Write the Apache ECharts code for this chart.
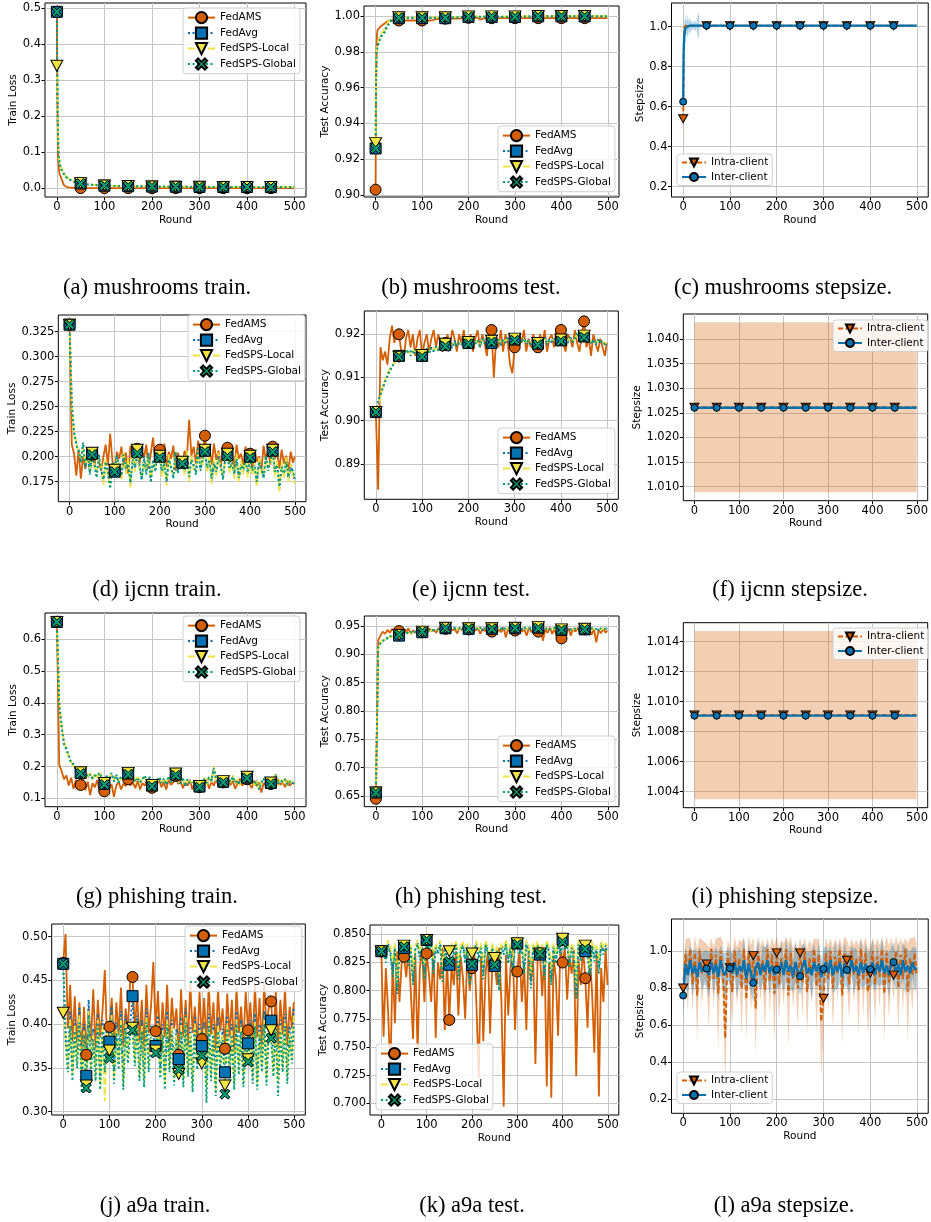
<!DOCTYPE html>
<html><head><meta charset="utf-8">
<script src="https://cdn.jsdelivr.net/npm/echarts@6/dist/echarts.min.js"></script>
<style>html,body{margin:0;padding:0;background:#fff;}#c{width:931px;height:1222px;}</style>
</head><body><div id="c"></div>
<script>
// ---------- x positions (rounds) ----------
const rounds5 = [];
for (let r = 0; r < 500; r += 5) rounds5.push(r);
rounds5.push(499);
const xTicks = [0, 100, 200, 300, 400, 500];

// ---------- (a) mushrooms train ----------
const mushTrainRounds = [0,1,2,3,4,5,6,8,10,12,15,20,25,30,35,40,45,50,60,70,80,90,100,120,150,175,200,250,300,350,400,450,499];
const mushTrainFedAMS = [0.490,0.250,0.120,0.075,0.055,0.045,0.038,0.032,0.028,0.030,0.008,0.004,0.002,0.0015,0.001,0.0008,0.0005,0.0002,0.0002,0.0002,0.0002,0.0001,0.0001,0.0001,0.0001,0.0001,0.0001,0.0001,0.0001,0.0001,0.0001,0.0001,0.0001];
const mushTrainFedAvg = [0.490,0.300,0.180,0.120,0.090,0.075,0.068,0.058,0.050,0.045,0.038,0.030,0.025,0.021,0.018,0.016,0.014,0.013,0.011,0.0095,0.0085,0.0078,0.007,0.0062,0.0055,0.005,0.0045,0.004,0.0035,0.0032,0.003,0.0028,0.0026];
const mushTrainLocal = [0.340,0.270,0.175,0.125,0.095,0.078,0.070,0.060,0.052,0.047,0.040,0.031,0.026,0.022,0.019,0.017,0.015,0.014,0.012,0.010,0.009,0.0082,0.0075,0.0066,0.0058,0.0053,0.0048,0.0042,0.0037,0.0034,0.0032,0.003,0.0028];
const mushTrainGlobal = [0.490,0.290,0.178,0.118,0.092,0.077,0.069,0.059,0.051,0.046,0.039,0.031,0.026,0.022,0.019,0.016,0.015,0.013,0.011,0.0097,0.0087,0.008,0.0072,0.0064,0.0057,0.0052,0.0047,0.0041,0.0036,0.0033,0.0031,0.0029,0.0027];

// ---------- (b) mushrooms test ----------
const mushTestRounds = [0,1,2,3,4,5,6,8,10,12,15,20,25,30,35,40,45,50,60,80,100,120,130,140,150,175,200,220,225,230,250,300,350,400,450,499];
const mushTestFedAMS = [0.903,0.955,0.982,0.990,0.992,0.992,0.993,0.993,0.994,0.994,0.995,0.996,0.997,0.9975,0.9975,0.9975,0.9975,0.9975,0.9975,0.9975,0.9975,0.9975,0.9982,0.9985,0.9985,0.9985,0.999,0.999,0.998,0.9985,0.9988,0.9988,0.9988,0.9988,0.9988,0.9988];
const mushTestFedAvg = [0.926,0.965,0.981,0.982,0.983,0.984,0.985,0.987,0.988,0.989,0.990,0.992,0.995,0.997,0.998,0.9985,0.9988,0.9988,0.9988,0.9988,0.9988,0.9988,0.9988,0.9988,0.9988,0.9992,0.9995,0.9995,0.9995,0.9995,0.9995,0.9995,0.9998,0.9998,0.9998,0.9998];
const mushTestLocal = [0.929,0.962,0.980,0.983,0.984,0.985,0.986,0.988,0.989,0.990,0.991,0.993,0.996,0.998,0.999,0.9992,0.9993,0.9993,0.9993,0.9993,0.9993,0.9993,0.9993,0.9993,0.9993,0.9995,0.9998,0.9998,0.9998,0.9998,0.9998,0.9998,1.0,1.0,1.0,1.0];
const mushTestGlobal = [0.926,0.963,0.980,0.981,0.982,0.983,0.984,0.986,0.987,0.988,0.990,0.991,0.994,0.996,0.998,0.9988,0.999,0.999,0.999,0.999,0.999,0.999,0.999,0.999,0.999,0.9993,0.9996,0.9996,0.9996,0.9996,0.9996,0.9996,0.9999,0.9999,0.9999,0.9999];

// ---------- (c) mushrooms stepsize ----------
const mushStepRounds = [0,1,2,3,4,5,6,8,10,12,15,18,20,22,25,28,30,33,35,40,45,50,100,150,200,250,300,350,400,450,499];
const mushIntraMean = [0.540,0.800,0.970,1.000,1.004,1.005,1.005,1.005,1.005,1.005,1.005,1.005,1.005,1.005,1.005,1.005,1.005,1.005,1.005,1.005,1.005,1.005,1.005,1.005,1.005,1.005,1.005,1.005,1.005,1.005,1.005];
const mushIntraStd = [0.190,0.120,0.040,0.015,0.008,0.005,0.004,0.003,0.003,0.002,0.002,0.002,0.002,0.002,0.002,0.002,0.002,0.002,0.002,0.002,0.002,0.002,0.002,0.002,0.002,0.002,0.002,0.002,0.002,0.002,0.002];
const mushInterMean = [0.625,0.870,0.940,0.965,0.985,0.992,0.996,0.999,1.002,1.004,1.005,1.005,1.005,1.005,1.005,1.005,1.005,1.005,1.005,1.005,1.005,1.005,1.005,1.005,1.005,1.005,1.005,1.005,1.005,1.005,1.005];
const mushInterStd = [0.010,0.030,0.050,0.070,0.060,0.075,0.040,0.030,0.060,0.020,0.040,0.015,0.025,0.010,0.030,0.010,0.040,0.070,0.010,0.003,0.002,0.002,0.002,0.002,0.002,0.002,0.002,0.002,0.002,0.002,0.002];

// ---------- (d) ijcnn train ----------
const ijcnnTrainFedAMS = [
0.332,0.212,0.203,0.181,0.207,0.178,0.200,0.188,0.206,0.193,
0.202,0.190,0.207,0.195,0.186,0.200,0.212,0.191,0.223,0.196,
0.186,0.205,0.198,0.210,0.190,0.204,0.183,0.211,0.197,0.205,
0.208,0.193,0.206,0.199,0.212,0.188,0.203,0.219,0.196,0.209,
0.207,0.195,0.213,0.190,0.205,0.198,0.211,0.186,0.204,0.196,
0.194,0.206,0.199,0.237,0.201,0.210,0.193,0.216,0.198,0.205,
0.221,0.200,0.208,0.192,0.213,0.197,0.206,0.189,0.211,0.199,
0.209,0.194,0.205,0.187,0.212,0.198,0.203,0.191,0.210,0.196,
0.203,0.189,0.207,0.195,0.200,0.185,0.211,0.197,0.206,0.192,
0.210,0.198,0.204,0.188,0.207,0.193,0.201,0.186,0.205,0.194,
0.200];
const ijcnnTrainFedAvg = [
0.332,0.255,0.225,0.213,0.205,0.196,0.212,0.190,0.203,0.184,
0.203,0.192,0.181,0.200,0.188,0.175,0.197,0.183,0.170,0.193,
0.185,0.200,0.191,0.179,0.204,0.186,0.195,0.172,0.199,0.188,
0.205,0.190,0.178,0.198,0.184,0.202,0.176,0.195,0.187,0.201,
0.200,0.183,0.196,0.174,0.199,0.189,0.180,0.203,0.185,0.197,
0.194,0.185,0.203,0.178,0.199,0.190,0.184,0.208,0.188,0.196,
0.206,0.187,0.199,0.176,0.195,0.183,0.201,0.190,0.179,0.197,
0.202,0.186,0.196,0.181,0.200,0.177,0.193,0.185,0.198,0.182,
0.200,0.184,0.192,0.173,0.197,0.186,0.180,0.199,0.188,0.195,
0.206,0.183,0.194,0.168,0.192,0.181,0.197,0.178,0.190,0.184,
0.176];
const ijcnnTrainLocal = [
0.332,0.252,0.222,0.216,0.203,0.199,0.209,0.193,0.201,0.187,
0.204,0.189,0.184,0.198,0.191,0.172,0.199,0.180,0.173,0.190,
0.187,0.197,0.194,0.176,0.206,0.183,0.198,0.169,0.201,0.185,
0.207,0.187,0.181,0.195,0.187,0.199,0.179,0.192,0.190,0.198,
0.201,0.180,0.199,0.171,0.202,0.186,0.183,0.200,0.188,0.194,
0.195,0.182,0.206,0.175,0.202,0.187,0.187,0.205,0.191,0.193,
0.207,0.184,0.202,0.173,0.198,0.180,0.204,0.187,0.182,0.194,
0.203,0.183,0.199,0.178,0.203,0.174,0.196,0.182,0.201,0.179,
0.201,0.181,0.195,0.170,0.200,0.183,0.183,0.196,0.191,0.192,
0.207,0.180,0.197,0.165,0.195,0.178,0.200,0.175,0.193,0.181,
0.173];
const ijcnnTrainGlobal = [
0.332,0.250,0.224,0.211,0.207,0.194,0.214,0.188,0.205,0.182,
0.202,0.194,0.179,0.202,0.186,0.177,0.195,0.185,0.168,0.195,
0.185,0.202,0.189,0.181,0.202,0.188,0.193,0.174,0.197,0.190,
0.203,0.192,0.176,0.200,0.182,0.204,0.174,0.197,0.185,0.203,
0.199,0.185,0.194,0.176,0.197,0.191,0.178,0.205,0.183,0.199,
0.193,0.187,0.201,0.180,0.197,0.192,0.182,0.210,0.186,0.198,
0.205,0.189,0.197,0.178,0.193,0.185,0.199,0.192,0.177,0.199,
0.200,0.188,0.194,0.183,0.198,0.179,0.191,0.187,0.196,0.184,
0.199,0.186,0.190,0.175,0.195,0.188,0.178,0.201,0.186,0.197,
0.205,0.185,0.192,0.170,0.190,0.183,0.195,0.180,0.188,0.186,
0.178];

// ---------- (e) ijcnn test ----------
const ijcnnTestFedAMS = [
0.902,0.884,0.917,0.914,0.916,0.913,0.919,0.922,0.918,0.921,
0.920,0.916,0.914,0.919,0.921,0.917,0.920,0.915,0.919,0.921,
0.915,0.918,0.920,0.916,0.919,0.921,0.917,0.920,0.918,0.916,
0.918,0.920,0.917,0.921,0.919,0.916,0.920,0.918,0.921,0.917,
0.918,0.920,0.916,0.919,0.921,0.917,0.920,0.918,0.915,0.921,
0.921,0.910,0.919,0.917,0.921,0.916,0.920,0.918,0.913,0.911,
0.917,0.919,0.920,0.918,0.921,0.916,0.919,0.917,0.920,0.918,
0.917,0.920,0.918,0.921,0.916,0.919,0.920,0.917,0.921,0.918,
0.921,0.918,0.916,0.920,0.919,0.917,0.921,0.918,0.916,0.920,
0.923,0.917,0.919,0.915,0.920,0.918,0.916,0.919,0.917,0.915,
0.918];
const ijcnnTestFedAvg = [
0.902,0.904,0.906,0.9075,0.909,0.9105,0.9115,0.9125,0.9135,0.914,
0.915,0.9145,0.916,0.9155,0.9165,0.915,0.916,0.9155,0.9165,0.9155,
0.915,0.916,0.9165,0.9155,0.917,0.916,0.917,0.9165,0.9175,0.9165,
0.9175,0.9168,0.918,0.917,0.9185,0.9172,0.918,0.9175,0.919,0.9178,
0.918,0.9172,0.919,0.9176,0.9188,0.9171,0.9192,0.9178,0.9185,0.9175,
0.918,0.9195,0.9176,0.919,0.9175,0.9188,0.9182,0.9192,0.9177,0.919,
0.9188,0.9176,0.919,0.918,0.9192,0.9178,0.9187,0.9175,0.919,0.918,
0.9178,0.919,0.918,0.9194,0.9177,0.9189,0.9181,0.9192,0.9178,0.9188,
0.9186,0.9178,0.9192,0.918,0.9195,0.9182,0.919,0.9199,0.9183,0.9193,
0.9195,0.918,0.9192,0.9178,0.9188,0.9175,0.919,0.9179,0.9186,0.9174,
0.918];
const ijcnnTestLocal = [
0.902,0.9035,0.9055,0.908,0.9095,0.911,0.912,0.9128,0.9132,0.9143,
0.9148,0.915,0.9158,0.9162,0.916,0.9155,0.9163,0.916,0.9168,0.916,
0.9152,0.9163,0.916,0.9162,0.9165,0.9168,0.9165,0.917,0.917,0.9172,
0.9178,0.9172,0.9176,0.9176,0.918,0.9178,0.9176,0.918,0.9185,0.9182,
0.9182,0.9177,0.9186,0.9181,0.9184,0.9177,0.9188,0.9182,0.9181,0.918,
0.9185,0.9198,0.918,0.9187,0.918,0.9185,0.9186,0.9188,0.9181,0.9186,
0.919,0.918,0.9187,0.9184,0.9188,0.9182,0.9184,0.9179,0.9187,0.9184,
0.918,0.9187,0.9184,0.919,0.9181,0.9186,0.9185,0.9189,0.9182,0.9185,
0.9188,0.9182,0.9189,0.9184,0.9192,0.9186,0.9187,0.9203,0.9187,0.919,
0.9197,0.9184,0.9189,0.9182,0.9185,0.9179,0.9187,0.9183,0.9183,0.9178,
0.9181];
const ijcnnTestGlobal = [
0.902,0.9045,0.9062,0.9078,0.9092,0.9102,0.9118,0.9122,0.9138,0.9138,
0.9148,0.9155,0.9152,0.9165,0.9158,0.9162,0.9155,0.9165,0.9158,0.9163,
0.9148,0.9158,0.9168,0.9158,0.9168,0.9162,0.9172,0.9162,0.9178,0.9163,
0.9172,0.9166,0.9182,0.9168,0.9183,0.9175,0.9178,0.9177,0.9188,0.9176,
0.9178,0.9174,0.9188,0.9178,0.9186,0.9173,0.919,0.918,0.9183,0.9177,
0.9182,0.9205,0.9178,0.9188,0.9177,0.9186,0.918,0.919,0.9179,0.9188,
0.9186,0.9178,0.9188,0.9182,0.919,0.918,0.9185,0.9177,0.9188,0.9182,
0.9176,0.9188,0.9182,0.9192,0.9179,0.9187,0.9183,0.919,0.918,0.9186,
0.9184,0.918,0.919,0.9182,0.9193,0.9184,0.9188,0.9205,0.9185,0.9191,
0.9193,0.9182,0.919,0.918,0.9186,0.9177,0.9188,0.9181,0.9184,0.9176,
0.9178];

// ---------- (f) ijcnn stepsize ----------
const ijcnnStepRounds = [0,50,100,150,200,250,300,350,400,450,499];
const ijcnnIntraMean = [1.02615,1.02615,1.02615,1.02615,1.02615,1.02615,1.02615,1.02615,1.02615,1.02615,1.02615];
const ijcnnIntraStd = [0.01725,0.01725,0.01725,0.01725,0.01725,0.01725,0.01725,0.01725,0.01725,0.01725,0.01725];
const ijcnnInterMean = [1.02605,1.02605,1.02605,1.02605,1.02605,1.02605,1.02605,1.02605,1.02605,1.02605,1.02605];

// ---------- (g) phishing train ----------
const phishTrainFedAMS = [
0.655,0.205,0.185,0.160,0.172,0.140,0.165,0.130,0.158,0.148,
0.142,0.160,0.125,0.152,0.110,0.148,0.135,0.158,0.118,0.145,
0.122,0.150,0.130,0.145,0.105,0.140,0.152,0.128,0.146,0.138,
0.160,0.140,0.150,0.132,0.155,0.128,0.148,0.140,0.158,0.135,
0.133,0.152,0.140,0.160,0.135,0.150,0.128,0.158,0.142,0.150,
0.170,0.145,0.155,0.132,0.150,0.140,0.158,0.128,0.148,0.138,
0.135,0.150,0.142,0.158,0.130,0.152,0.140,0.160,0.138,0.148,
0.150,0.138,0.160,0.142,0.155,0.130,0.148,0.162,0.140,0.152,
0.160,0.145,0.132,0.155,0.138,0.150,0.118,0.148,0.140,0.155,
0.145,0.152,0.138,0.160,0.142,0.150,0.135,0.155,0.140,0.150,
0.145];
const phishTrainFedAvg = [
0.655,0.400,0.320,0.275,0.250,0.232,0.212,0.205,0.192,0.185,
0.180,0.172,0.185,0.165,0.178,0.160,0.175,0.168,0.182,0.158,
0.145,0.170,0.160,0.178,0.155,0.172,0.150,0.168,0.162,0.175,
0.178,0.160,0.170,0.152,0.165,0.148,0.162,0.170,0.150,0.165,
0.140,0.158,0.148,0.165,0.150,0.160,0.145,0.168,0.152,0.162,
0.175,0.155,0.148,0.162,0.140,0.158,0.150,0.145,0.155,0.142,
0.137,0.150,0.162,0.145,0.168,0.152,0.198,0.158,0.148,0.160,
0.152,0.145,0.162,0.150,0.170,0.148,0.158,0.142,0.165,0.150,
0.165,0.150,0.158,0.142,0.155,0.132,0.150,0.160,0.145,0.155,
0.148,0.160,0.175,0.142,0.158,0.150,0.162,0.140,0.155,0.148,
0.150];
const phishTrainLocal = [
0.655,0.410,0.325,0.280,0.255,0.228,0.215,0.200,0.195,0.182,
0.182,0.168,0.188,0.162,0.180,0.158,0.178,0.165,0.185,0.155,
0.148,0.168,0.163,0.175,0.158,0.170,0.153,0.165,0.165,0.172,
0.180,0.158,0.172,0.150,0.168,0.145,0.165,0.168,0.153,0.162,
0.142,0.155,0.150,0.162,0.153,0.158,0.148,0.165,0.155,0.160,
0.178,0.152,0.150,0.160,0.143,0.155,0.153,0.142,0.158,0.140,
0.139,0.148,0.165,0.143,0.170,0.150,0.200,0.155,0.150,0.158,
0.154,0.143,0.165,0.148,0.172,0.145,0.160,0.140,0.168,0.148,
0.168,0.148,0.160,0.140,0.158,0.130,0.153,0.158,0.148,0.152,
0.150,0.158,0.178,0.140,0.160,0.148,0.165,0.138,0.158,0.145,
0.152];
const phishTrainGlobal = [
0.655,0.395,0.330,0.270,0.258,0.236,0.210,0.208,0.190,0.188,
0.178,0.175,0.182,0.168,0.175,0.163,0.172,0.170,0.180,0.160,
0.143,0.172,0.158,0.180,0.152,0.175,0.148,0.170,0.160,0.178,
0.175,0.162,0.168,0.155,0.162,0.150,0.160,0.172,0.148,0.168,
0.138,0.160,0.146,0.168,0.148,0.162,0.143,0.170,0.150,0.165,
0.172,0.158,0.146,0.165,0.138,0.160,0.148,0.148,0.152,0.145,
0.135,0.152,0.160,0.148,0.165,0.155,0.195,0.160,0.146,0.162,
0.150,0.148,0.160,0.153,0.168,0.150,0.155,0.145,0.162,0.153,
0.163,0.153,0.155,0.145,0.152,0.128,0.148,0.163,0.142,0.158,
0.146,0.162,0.172,0.145,0.155,0.153,0.160,0.143,0.152,0.150,
0.148];

// ---------- (h) phishing test ----------
const phishTestFedAMS = [
0.645,0.925,0.933,0.940,0.936,0.943,0.938,0.945,0.940,0.944,
0.941,0.937,0.944,0.939,0.946,0.936,0.942,0.938,0.945,0.940,
0.939,0.944,0.937,0.946,0.941,0.943,0.938,0.946,0.942,0.945,
0.945,0.940,0.947,0.942,0.945,0.937,0.946,0.943,0.948,0.941,
0.944,0.939,0.947,0.942,0.946,0.936,0.945,0.941,0.947,0.940,
0.940,0.946,0.935,0.944,0.939,0.947,0.930,0.945,0.938,0.946,
0.942,0.936,0.946,0.940,0.944,0.933,0.947,0.939,0.945,0.941,
0.940,0.946,0.924,0.944,0.938,0.947,0.936,0.945,0.930,0.942,
0.928,0.944,0.937,0.946,0.933,0.945,0.940,0.947,0.935,0.944,
0.944,0.938,0.946,0.934,0.945,0.921,0.943,0.937,0.946,0.938,
0.942];
const phishTestFedAvg = [
0.656,0.912,0.920,0.924,0.927,0.929,0.931,0.932,0.933,0.934,
0.933,0.936,0.937,0.936,0.938,0.937,0.939,0.938,0.940,0.939,
0.939,0.941,0.940,0.942,0.941,0.943,0.942,0.944,0.943,0.945,
0.946,0.944,0.946,0.945,0.947,0.944,0.946,0.945,0.947,0.944,
0.945,0.946,0.944,0.947,0.945,0.946,0.943,0.947,0.945,0.946,
0.945,0.947,0.944,0.946,0.945,0.947,0.944,0.946,0.945,0.947,
0.946,0.944,0.947,0.945,0.946,0.944,0.947,0.945,0.946,0.944,
0.947,0.945,0.946,0.944,0.947,0.945,0.943,0.946,0.944,0.945,
0.943,0.945,0.944,0.946,0.943,0.945,0.944,0.946,0.943,0.945,
0.944,0.946,0.943,0.945,0.944,0.946,0.943,0.945,0.944,0.946,
0.945];
const phishTestLocal = [
0.656,0.910,0.921,0.925,0.926,0.930,0.930,0.933,0.932,0.935,
0.934,0.935,0.938,0.937,0.937,0.938,0.938,0.939,0.939,0.940,
0.940,0.940,0.941,0.941,0.942,0.942,0.943,0.943,0.944,0.944,
0.947,0.945,0.945,0.946,0.946,0.945,0.945,0.946,0.946,0.945,
0.946,0.945,0.945,0.946,0.946,0.945,0.944,0.946,0.946,0.945,
0.946,0.946,0.945,0.945,0.946,0.946,0.945,0.945,0.946,0.946,
0.947,0.945,0.946,0.946,0.945,0.945,0.946,0.946,0.945,0.945,
0.948,0.944,0.947,0.945,0.946,0.946,0.944,0.945,0.945,0.944,
0.944,0.944,0.945,0.945,0.944,0.944,0.945,0.945,0.944,0.944,
0.945,0.945,0.944,0.944,0.945,0.945,0.944,0.944,0.945,0.945,
0.944];
const phishTestGlobal = [
0.656,0.913,0.919,0.923,0.928,0.928,0.932,0.931,0.934,0.933,
0.935,0.937,0.936,0.938,0.937,0.939,0.938,0.940,0.939,0.940,
0.940,0.941,0.941,0.942,0.942,0.943,0.943,0.944,0.944,0.945,
0.946,0.945,0.946,0.946,0.945,0.946,0.946,0.946,0.945,0.946,
0.945,0.947,0.945,0.946,0.944,0.947,0.945,0.946,0.944,0.947,
0.945,0.946,0.945,0.947,0.944,0.946,0.945,0.947,0.944,0.946,
0.946,0.945,0.946,0.944,0.947,0.945,0.946,0.944,0.947,0.945,
0.946,0.946,0.945,0.945,0.946,0.944,0.944,0.947,0.945,0.946,
0.943,0.946,0.945,0.945,0.944,0.946,0.945,0.945,0.944,0.946,
0.944,0.945,0.944,0.946,0.945,0.945,0.944,0.946,0.945,0.945,
0.946];

// ---------- (i) phishing stepsize ----------
const phishStepRounds = [0,50,100,150,200,250,300,350,400,450,499];
const phishIntraMean = [1.00911,1.00911,1.00911,1.00911,1.00911,1.00911,1.00911,1.00911,1.00911,1.00911,1.00911];
const phishIntraStd = [0.00561,0.00561,0.00561,0.00561,0.00561,0.00561,0.00561,0.00561,0.00561,0.00561,0.00561];
const phishInterMean = [1.00907,1.00907,1.00907,1.00907,1.00907,1.00907,1.00907,1.00907,1.00907,1.00907,1.00907];

// ---------- (j) a9a train ----------
const a9aTrainFedAMS = [
0.470,0.503,0.395,0.445,0.380,0.432,0.370,0.425,0.365,0.420,
0.365,0.418,0.380,0.440,0.372,0.428,0.385,0.415,0.462,0.378,
0.397,0.430,0.372,0.425,0.388,0.442,0.375,0.418,0.395,0.450,
0.454,0.392,0.435,0.380,0.428,0.368,0.445,0.390,0.420,0.471,
0.392,0.438,0.375,0.425,0.385,0.445,0.370,0.430,0.395,0.418,
0.365,0.440,0.385,0.428,0.375,0.448,0.390,0.420,0.372,0.438,
0.383,0.430,0.378,0.445,0.388,0.425,0.370,0.440,0.392,0.418,
0.372,0.435,0.385,0.428,0.368,0.442,0.390,0.420,0.378,0.438,
0.393,0.425,0.375,0.445,0.385,0.430,0.370,0.448,0.395,0.420,
0.426,0.380,0.438,0.372,0.428,0.388,0.442,0.375,0.420,0.395,
0.425];
const a9aTrainFedAvg = [
0.469,0.395,0.360,0.415,0.350,0.405,0.365,0.420,0.345,0.400,
0.341,0.428,0.360,0.395,0.352,0.412,0.340,0.405,0.370,0.398,
0.380,0.420,0.348,0.402,0.365,0.415,0.338,0.410,0.372,0.400,
0.432,0.368,0.410,0.350,0.405,0.345,0.418,0.362,0.398,0.385,
0.375,0.410,0.352,0.400,0.342,0.415,0.360,0.405,0.348,0.395,
0.360,0.408,0.345,0.418,0.355,0.398,0.340,0.410,0.365,0.400,
0.375,0.402,0.338,0.412,0.350,0.400,0.335,0.408,0.362,0.395,
0.345,0.410,0.352,0.400,0.340,0.415,0.358,0.405,0.345,0.398,
0.378,0.405,0.350,0.412,0.342,0.400,0.362,0.415,0.348,0.402,
0.404,0.355,0.410,0.345,0.405,0.360,0.412,0.350,0.398,0.372,
0.420];
const a9aTrainLocal = [
0.413,0.385,0.352,0.405,0.342,0.398,0.355,0.410,0.335,0.392,
0.330,0.415,0.350,0.388,0.340,0.405,0.330,0.398,0.312,0.390,
0.370,0.410,0.338,0.395,0.355,0.405,0.330,0.400,0.362,0.392,
0.396,0.358,0.400,0.340,0.398,0.335,0.408,0.352,0.390,0.375,
0.370,0.400,0.342,0.392,0.332,0.405,0.350,0.398,0.338,0.388,
0.343,0.398,0.335,0.408,0.345,0.390,0.330,0.400,0.355,0.392,
0.355,0.395,0.328,0.402,0.340,0.392,0.325,0.398,0.352,0.388,
0.330,0.400,0.342,0.392,0.330,0.405,0.348,0.398,0.335,0.390,
0.360,0.398,0.340,0.402,0.332,0.392,0.352,0.405,0.338,0.395,
0.393,0.345,0.400,0.335,0.398,0.350,0.402,0.340,0.390,0.362,
0.410];
const a9aTrainGlobal = [
0.469,0.380,0.345,0.398,0.335,0.392,0.350,0.402,0.322,0.388,
0.327,0.410,0.345,0.382,0.335,0.400,0.325,0.392,0.345,0.385,
0.361,0.405,0.332,0.390,0.348,0.400,0.325,0.395,0.355,0.388,
0.393,0.352,0.395,0.335,0.392,0.328,0.402,0.345,0.385,0.368,
0.367,0.395,0.338,0.388,0.325,0.400,0.345,0.392,0.330,0.382,
0.348,0.392,0.328,0.402,0.340,0.385,0.322,0.395,0.348,0.388,
0.364,0.390,0.310,0.398,0.335,0.388,0.318,0.392,0.345,0.382,
0.320,0.395,0.335,0.388,0.325,0.400,0.342,0.392,0.328,0.385,
0.357,0.392,0.332,0.398,0.325,0.388,0.345,0.400,0.330,0.390,
0.384,0.340,0.395,0.318,0.392,0.345,0.398,0.332,0.385,0.355,
0.400];

// ---------- (k) a9a test ----------
const a9aTestFedAMS = [
0.835,0.759,0.820,0.782,0.725,0.828,0.771,0.835,0.790,0.825,
0.830,0.812,0.838,0.800,0.757,0.832,0.745,0.820,0.838,0.790,
0.833,0.815,0.790,0.836,0.758,0.825,0.810,0.838,0.765,0.828,
0.774,0.822,0.805,0.835,0.778,0.830,0.812,0.775,0.836,0.800,
0.820,0.838,0.786,0.722,0.830,0.755,0.815,0.835,0.762,0.825,
0.825,0.805,0.838,0.790,0.697,0.832,0.778,0.820,0.838,0.765,
0.817,0.835,0.790,0.825,0.765,0.838,0.810,0.828,0.735,0.832,
0.833,0.795,0.838,0.715,0.825,0.705,0.830,0.812,0.760,0.836,
0.825,0.838,0.792,0.830,0.815,0.836,0.724,0.828,0.805,0.838,
0.811,0.767,0.832,0.798,0.745,0.835,0.706,0.820,0.790,0.838,
0.805];
const a9aTestFedAvg = [
0.835,0.840,0.828,0.842,0.835,0.818,0.840,0.797,0.838,0.830,
0.838,0.842,0.825,0.840,0.808,0.838,0.843,0.830,0.840,0.815,
0.845,0.838,0.842,0.820,0.840,0.835,0.843,0.812,0.838,0.830,
0.823,0.840,0.832,0.843,0.815,0.838,0.842,0.828,0.840,0.810,
0.823,0.838,0.842,0.830,0.840,0.815,0.843,0.836,0.825,0.840,
0.822,0.838,0.805,0.840,0.835,0.843,0.828,0.840,0.818,0.842,
0.842,0.835,0.840,0.820,0.843,0.838,0.808,0.840,0.832,0.842,
0.832,0.840,0.815,0.843,0.836,0.810,0.840,0.828,0.842,0.835,
0.845,0.838,0.842,0.825,0.840,0.832,0.795,0.843,0.830,0.840,
0.835,0.840,0.812,0.842,0.830,0.838,0.820,0.842,0.835,0.840,
0.838];
const a9aTestLocal = [
0.835,0.842,0.832,0.845,0.838,0.825,0.842,0.808,0.840,0.835,
0.840,0.844,0.830,0.842,0.818,0.840,0.845,0.835,0.842,0.822,
0.845,0.840,0.844,0.828,0.842,0.838,0.845,0.820,0.840,0.835,
0.835,0.842,0.836,0.845,0.822,0.840,0.844,0.832,0.842,0.818,
0.833,0.840,0.844,0.835,0.842,0.822,0.845,0.838,0.830,0.842,
0.829,0.840,0.815,0.842,0.838,0.845,0.832,0.842,0.825,0.844,
0.842,0.838,0.842,0.828,0.845,0.840,0.815,0.842,0.836,0.844,
0.833,0.842,0.822,0.845,0.838,0.818,0.842,0.832,0.844,0.838,
0.846,0.840,0.844,0.830,0.842,0.836,0.805,0.845,0.834,0.842,
0.840,0.842,0.820,0.844,0.835,0.840,0.826,0.844,0.838,0.842,
0.840];
const a9aTestGlobal = [
0.835,0.838,0.825,0.840,0.832,0.812,0.838,0.800,0.836,0.828,
0.839,0.840,0.822,0.838,0.805,0.836,0.841,0.827,0.838,0.810,
0.845,0.836,0.840,0.815,0.838,0.832,0.841,0.808,0.836,0.826,
0.826,0.838,0.828,0.841,0.810,0.836,0.840,0.824,0.838,0.805,
0.824,0.836,0.840,0.826,0.838,0.810,0.841,0.833,0.820,0.838,
0.823,0.836,0.800,0.838,0.832,0.841,0.824,0.838,0.812,0.840,
0.841,0.832,0.838,0.815,0.841,0.835,0.802,0.838,0.828,0.840,
0.833,0.838,0.810,0.841,0.833,0.805,0.838,0.824,0.840,0.832,
0.843,0.836,0.840,0.820,0.838,0.828,0.792,0.841,0.826,0.838,
0.837,0.838,0.808,0.840,0.826,0.836,0.815,0.840,0.832,0.838,
0.836];

// ---------- (l) a9a stepsize ----------
const a9aIntraMean = [
0.800,0.985,0.870,1.010,0.820,0.990,0.760,1.000,0.880,0.950,
0.930,0.800,1.010,0.850,0.980,0.770,1.000,0.900,0.530,0.990,
0.910,0.780,1.000,0.860,0.960,0.800,1.010,0.740,0.990,0.850,
0.975,0.690,1.000,0.880,0.950,0.790,1.010,0.840,0.980,0.770,
0.990,0.820,0.960,0.870,1.010,0.760,0.990,0.850,0.940,0.800,
0.990,0.830,1.000,0.780,0.960,0.870,1.010,0.810,0.980,0.620,
0.745,0.990,0.850,1.000,0.800,0.970,0.880,1.010,0.760,0.990,
0.950,0.820,1.000,0.870,0.960,0.790,1.010,0.840,0.990,0.780,
0.880,1.000,0.820,0.970,0.860,1.010,0.770,0.990,0.830,0.960,
0.870,1.000,0.800,0.980,0.850,1.010,0.780,0.960,0.870,0.990,
0.880];
const a9aIntraStd = [
0.120,0.080,0.200,0.060,0.150,0.090,0.250,0.070,0.180,0.100,
0.110,0.220,0.060,0.170,0.090,0.300,0.080,0.150,0.280,0.070,
0.120,0.200,0.080,0.160,0.100,0.250,0.060,0.220,0.090,0.180,
0.100,0.250,0.080,0.150,0.110,0.220,0.060,0.180,0.090,0.260,
0.090,0.200,0.100,0.170,0.070,0.280,0.090,0.160,0.110,0.210,
0.080,0.190,0.070,0.230,0.100,0.160,0.060,0.250,0.090,0.300,
0.200,0.080,0.180,0.070,0.220,0.100,0.150,0.060,0.260,0.090,
0.110,0.200,0.070,0.160,0.100,0.240,0.060,0.190,0.090,0.230,
0.150,0.070,0.210,0.100,0.170,0.060,0.250,0.090,0.200,0.110,
0.140,0.080,0.230,0.090,0.180,0.060,0.260,0.110,0.200,0.090,
0.150];
const a9aInterMean = [
0.760,0.930,0.870,0.950,0.880,0.920,0.860,0.940,0.890,0.910,
0.905,0.870,0.940,0.880,0.930,0.860,0.950,0.890,0.870,0.930,
0.907,0.880,0.940,0.870,0.920,0.890,0.950,0.850,0.930,0.880,
0.828,0.910,0.940,0.870,0.930,0.890,0.950,0.880,0.920,0.870,
0.900,0.880,0.940,0.870,0.950,0.890,0.920,0.860,0.940,0.890,
0.864,0.920,0.950,0.880,0.910,0.870,0.940,0.890,0.930,0.860,
0.903,0.940,0.880,0.950,0.870,0.920,0.890,0.940,0.860,0.930,
0.898,0.880,0.950,0.890,0.920,0.870,0.940,0.880,0.930,0.890,
0.902,0.940,0.870,0.930,0.890,0.950,0.880,0.920,0.870,0.940,
0.940,0.880,0.930,0.870,0.950,0.890,0.920,0.880,0.940,0.900,
0.910];
const a9aInterStd = [
0.140,0.090,0.110,0.080,0.120,0.090,0.130,0.080,0.100,0.090,
0.100,0.120,0.080,0.110,0.090,0.130,0.080,0.100,0.120,0.090,
0.090,0.110,0.080,0.120,0.100,0.090,0.130,0.080,0.110,0.100,
0.110,0.090,0.120,0.080,0.100,0.130,0.090,0.110,0.080,0.120,
0.100,0.080,0.110,0.090,0.120,0.100,0.130,0.080,0.110,0.090,
0.100,0.120,0.080,0.110,0.090,0.130,0.100,0.080,0.120,0.090,
0.110,0.090,0.120,0.080,0.100,0.130,0.090,0.110,0.080,0.120,
0.090,0.110,0.080,0.120,0.100,0.090,0.130,0.080,0.110,0.100,
0.100,0.120,0.090,0.110,0.080,0.130,0.100,0.090,0.120,0.080,
0.110,0.090,0.120,0.080,0.100,0.130,0.090,0.110,0.080,0.120,
0.100];

// ---------- styles ----------
const FONT = "'DejaVu Sans', sans-serif";
const DOWN_TRI = 'path://M0,0L10,0L5,9Z';
const X_MARK = 'path://M2,0L5,3L8,0L10,2L7,5L10,8L8,10L5,7L2,10L0,8L3,5L0,2Z';
const STY = {
  'FedAMS':        {color:'#D55E00', dash:'solid', width:1.8, symbol:'circle', size:11},
  'FedAvg':        {color:'#0072B2', dash:[2,2.5], width:1.9, symbol:'rect', size:11},
  'FedSPS-Local':  {color:'#F0E442', dash:[7,3], width:1.8, symbol:DOWN_TRI, size:[12,11]},
  'FedSPS-Global': {color:'#009E73', dash:[2,2.5], width:1.9, symbol:X_MARK, size:10},
  'Intra-client':  {color:'#D55E00', dash:[5,2.5], width:2, symbol:DOWN_TRI, size:[9,8]},
  'Inter-client':  {color:'#0072B2', dash:'solid', width:2.3, symbol:'circle', size:7}
};
const ALGOS = ['FedAMS','FedAvg','FedSPS-Local','FedSPS-Global'];
const STEPS = ['Intra-client','Inter-client'];

const PANELS = [
 {g:[45,3,261,194], y:[-0.0245,0.5145], yt:[0,0.1,0.2,0.3,0.4,0.5], dec:1, yn:'Train Loss', yg:19, leg:[183,8], kind:'algo', r:mushTrainRounds, d:[mushTrainFedAMS,mushTrainFedAvg,mushTrainLocal,mushTrainGlobal], cap:['(a) mushrooms train.',157,288]},
 {g:[364,6,255,191], y:[0.8989,1.0056], yt:[0.90,0.92,0.94,0.96,0.98,1.00], dec:2, yn:'Test Accuracy', yg:25, leg:[498,126], kind:'algo', r:mushTestRounds, d:[mushTestFedAMS,mushTestFedAvg,mushTestLocal,mushTestGlobal], cap:['(b) mushrooms test.',471,288]},
 {g:[671.5,3,261,194], y:[0.1485,1.1185], yt:[0.2,0.4,0.6,0.8,1.0], dec:1, yn:'Stepsize', yg:20, leg:[677,154], kind:'step', r:mushStepRounds, d:[mushIntraMean,mushIntraStd,mushInterMean,mushInterStd], cap:['(c) mushrooms stepsize.',783,288]},
 {g:[58.3,315,247.7,186.7], y:[0.155,0.3417], yt:[0.175,0.2,0.225,0.25,0.275,0.3,0.325], dec:3, yn:'Train Loss', yg:32, leg:[188,315], kind:'algo', r:rounds5, d:[ijcnnTrainFedAMS,ijcnnTrainFedAvg,ijcnnTrainLocal,ijcnnTrainGlobal], cap:['(d) ijcnn train.',157,590]},
 {g:[364.3,311,254,188.3], y:[0.8818,0.9254], yt:[0.89,0.90,0.91,0.92], dec:2, yn:'Test Accuracy', yg:25, leg:[498,428], kind:'algo', r:rounds5, d:[ijcnnTestFedAMS,ijcnnTestFedAvg,ijcnnTestLocal,ijcnnTestGlobal], cap:['(e) ijcnn test.',471,590]},
 {g:[683.3,314,248.2,186.7], y:[1.00716,1.0451], yt:[1.010,1.015,1.020,1.025,1.030,1.035,1.040], dec:3, yn:'Stepsize', yg:32, leg:[833,320], kind:'step', r:ijcnnStepRounds, d:[ijcnnIntraMean,ijcnnIntraStd,ijcnnInterMean,null], cap:['(f) ijcnn stepsize.',790,590]},
 {g:[45,613,261,193.7], y:[0.0736,0.683], yt:[0.1,0.2,0.3,0.4,0.5,0.6], dec:1, yn:'Train Loss', yg:19, leg:[183,616], kind:'algo', r:rounds5, d:[phishTrainFedAMS,phishTrainFedAvg,phishTrainLocal,phishTrainGlobal], cap:['(g) phishing train.',157,897]},
 {g:[364.3,616,254.7,190.7], y:[0.631,0.9676], yt:[0.65,0.70,0.75,0.80,0.85,0.90,0.95], dec:2, yn:'Test Accuracy', yg:25, leg:[498,736], kind:'algo', r:rounds5, d:[phishTestFedAMS,phishTestFedAvg,phishTestLocal,phishTestGlobal], cap:['(h) phishing test.',471,897]},
 {g:[683.3,622.7,248.2,185], y:[1.00293,1.01527], yt:[1.004,1.006,1.008,1.010,1.012,1.014], dec:3, yn:'Stepsize', yg:32, leg:[833,628], kind:'step', r:phishStepRounds, d:[phishIntraMean,phishIntraStd,phishInterMean,null], cap:['(i) phishing stepsize.',785,897]},
 {g:[51.7,924,253.6,191], y:[0.2962,0.5145], yt:[0.30,0.35,0.40,0.45,0.50], dec:2, yn:'Train Loss', yg:26, leg:[185,926], kind:'algo', r:rounds5, d:[a9aTrainFedAMS,a9aTrainFedAvg,a9aTrainLocal,a9aTrainGlobal], cap:['(j) a9a train.',155,1206]},
 {g:[370,925,248.8,190], y:[0.6896,0.8583], yt:[0.700,0.725,0.750,0.775,0.800,0.825,0.850], dec:3, yn:'Test Accuracy', yg:31, leg:[376,1044], kind:'algo', r:rounds5, d:[a9aTestFedAMS,a9aTestFedAvg,a9aTestLocal,a9aTestGlobal], cap:['(k) a9a test.',472,1206]},
 {g:[671.5,919,261,194.3], y:[0.1245,1.1726], yt:[0.2,0.4,0.6,0.8,1.0], dec:1, yn:'Stepsize', yg:20, leg:[677,1072], kind:'step', r:rounds5, d:[a9aIntraMean,a9aIntraStd,a9aInterMean,a9aInterStd], cap:['(l) a9a stepsize.',784,1206]}
];

// ---------- builders ----------
const isMark = x => x % 50 === 0 && x <= 450;

function lineSeries(gi, name, rounds, vals) {
  const s = STY[name];
  return {
    type:'line', name, xAxisIndex:gi, yAxisIndex:gi, z:3,
    data: rounds.map((x,i) => isMark(x) ? {value:[x, vals[i]]} : {value:[x, vals[i]], symbol:'none'}),
    symbol:s.symbol, symbolSize:s.size, showSymbol:true, showAllSymbol:true,
    lineStyle:{color:s.color, width:s.width, type:s.dash, cap:'butt'},
    itemStyle:{color:s.color, borderColor:'#000', borderWidth:1},
    silent:true, animation:false, clip:true
  };
}
// mean ± std band drawn as one polygon through the axis scales
function bandSeries(gi, id, rounds, mean, std, color) {
  return {
    type:'custom', name:id, xAxisIndex:gi, yAxisIndex:gi, coordinateSystem:'cartesian2d', z:1,
    silent:true, animation:false, clip:true,
    data:[[rounds[0], mean[0]]],
    renderItem:(params, api) => {
      const pts = [];
      for (let i = 0; i < rounds.length; i++) pts.push(api.coord([rounds[i], mean[i] + std[i]]));
      for (let i = rounds.length - 1; i >= 0; i--) pts.push(api.coord([rounds[i], mean[i] - std[i]]));
      return {type:'polygon', shape:{points:pts}, style:{fill:color, stroke:null}};
    }
  };
}

const grids = [], xAxes = [], yAxes = [], series = [], legends = [], graphics = [];
PANELS.forEach((p, gi) => {
  grids.push({left:p.g[0], top:p.g[1], width:p.g[2], height:p.g[3], show:true, borderColor:'#000', borderWidth:1, backgroundColor:'rgba(0,0,0,0)', containLabel:false});
  xAxes.push({type:'value', gridIndex:gi, min:-24.95, max:523.95,
    name:'Round', nameLocation:'middle', nameGap:17.5,
    nameTextStyle:{fontSize:10.5, fontFamily:FONT, color:'#000'},
    axisLine:{show:false, onZero:false},
    axisTick:{show:true, length:3.5, lineStyle:{color:'#000', width:1}, customValues:xTicks},
    axisLabel:{customValues:xTicks, fontSize:11.5, fontFamily:FONT, color:'#000', margin:4},
    splitLine:{show:true, lineStyle:{color:'#c6c6c6', width:1}}});
  yAxes.push({type:'value', gridIndex:gi, min:p.y[0], max:p.y[1],
    name:p.yn, nameLocation:'middle', nameGap:p.yg,
    nameTextStyle:{fontSize:10.5, fontFamily:FONT, color:'#000'},
    axisLine:{show:false, onZero:false},
    axisTick:{show:true, length:3.5, lineStyle:{color:'#000', width:1}, customValues:p.yt},
    axisLabel:{customValues:p.yt, fontSize:11.5, fontFamily:FONT, color:'#000', margin:4,
      formatter: v => Number(v).toFixed(p.dec)},
    splitLine:{show:true, lineStyle:{color:'#c6c6c6', width:1}}});
  if (p.kind === 'algo') {
    ALGOS.forEach((n, k) => series.push(lineSeries(gi, n, p.r, p.d[k])));
    legends.push({orient:'vertical', left:p.leg[0], top:p.leg[1], data:ALGOS,
      itemWidth:27, itemHeight:14, itemGap:2.3, padding:[3,4,3,4],
      backgroundColor:'rgba(255,255,255,0.8)', borderColor:'#cfcfcf', borderWidth:1, borderRadius:3,
      textStyle:{fontSize:10.5, fontFamily:FONT, color:'#000'}, selectedMode:false});
  } else {
    const [im, is, nm, ns] = p.d;
    series.push(bandSeries(gi, 'intraBand'+gi, p.r, im, is, 'rgba(213,94,0,0.3)'));
    series.push(lineSeries(gi, 'Intra-client', p.r, im));
    if (ns) series.push(bandSeries(gi, 'interBand'+gi, p.r, nm, ns, 'rgba(0,114,178,0.3)'));
    series.push(lineSeries(gi, 'Inter-client', p.r, nm));
    legends.push({orient:'vertical', left:p.leg[0], top:p.leg[1], data:STEPS,
      itemWidth:24, itemHeight:10, itemGap:3.5, padding:[3,4,3,4],
      backgroundColor:'rgba(255,255,255,0.8)', borderColor:'#cfcfcf', borderWidth:1, borderRadius:3,
      textStyle:{fontSize:10.5, fontFamily:FONT, color:'#000'}, selectedMode:false});
  }
  graphics.push({type:'text', x:p.cap[1], y:p.cap[2], silent:true,
    style:{text:p.cap[0], fontSize:22.5, fontFamily:"'Liberation Serif', serif", fill:'#000', align:'center', verticalAlign:'middle'}});
});

const chart = echarts.init(document.getElementById('c'), null, {renderer:'canvas'});
chart.setOption({
  animation:false,
  backgroundColor:'#fff',
  grid:grids, xAxis:xAxes, yAxis:yAxes, series:series, legend:legends, graphic:graphics
});
</script></body></html>
